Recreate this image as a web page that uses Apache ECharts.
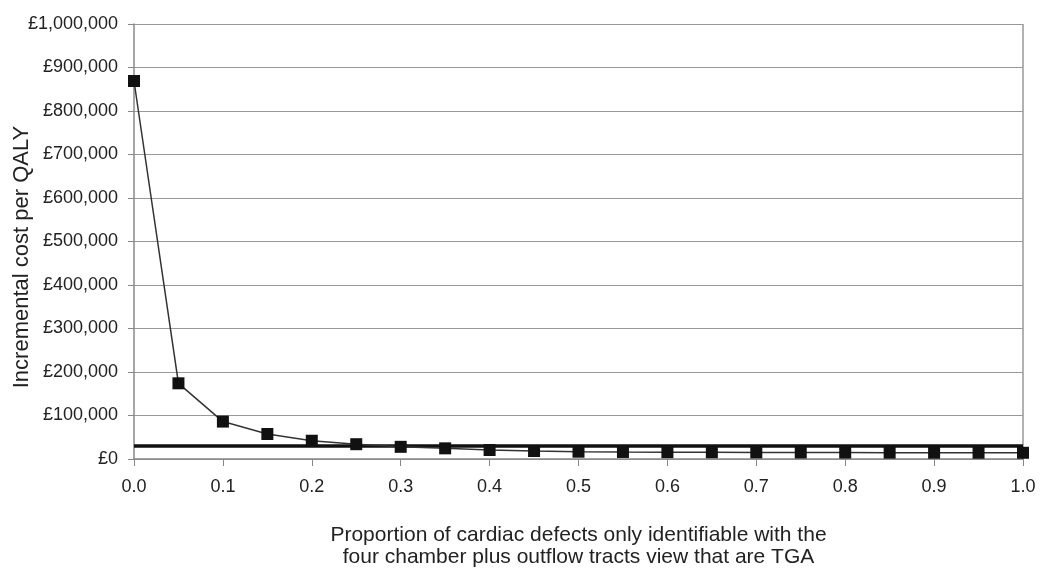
<!DOCTYPE html>
<html lang="en">
<head>
    <meta charset="UTF-8">
    <title>Incremental cost per QALY</title>
    <style>
        html, body { margin: 0; padding: 0; background: #fff; }
        #main { width: 1041px; height: 572px; }
    </style>
</head>
<body>
    <div id="main"></div>
    <script src="https://cdn.jsdelivr.net/npm/echarts@6/dist/echarts.min.js"></script>
    <script>
        // proportion of defects that are TGA
        var proportions = [0.0, 0.05, 0.1, 0.15, 0.2, 0.25, 0.3, 0.35, 0.4, 0.45, 0.5,
                           0.55, 0.6, 0.65, 0.7, 0.75, 0.8, 0.85, 0.9, 0.95, 1.0];
        // incremental cost per QALY (GBP)
        var costPerQaly = [869000, 174000, 86000, 57500, 42000, 34000, 28000, 24500, 20700, 18400, 16800,
                           16200, 15800, 15500, 15200, 15000, 14800, 14600, 14500, 14400, 14300];
        var threshold = 30000;
        var thresholdX = [0, 1];

        var font = 'Liberation Sans, Arial, sans-serif';

        var chart = echarts.init(document.getElementById('main'));
        chart.setOption({
            animation: false,
            grid: { left: 134, right: 18, top: 24, bottom: 113, outerBoundsMode: 'none', containLabel: false },
            xAxis: {
                type: 'value',
                min: 0,
                max: 1,
                interval: 0.1,
                name: 'Proportion of cardiac defects only identifiable with the\nfour chamber plus outflow tracts view that are TGA',
                nameLocation: 'middle',
                nameGap: 65,
                nameTextStyle: { fontFamily: font, fontSize: 21, color: '#222', lineHeight: 22 },
                axisLine: { show: true, lineStyle: { color: '#888', width: 1.5 } },
                axisTick: { show: true, length: 7, lineStyle: { color: '#888' } },
                axisLabel: {
                    margin: 19,
                    fontFamily: font, fontSize: 18, color: '#222',
                    formatter: function (v) { return v.toFixed(1); }
                },
                splitLine: { show: false }
            },
            yAxis: {
                type: 'value',
                min: 0,
                max: 1000000,
                interval: 100000,
                axisLine: { show: true, lineStyle: { color: '#888', width: 1.5 } },
                axisTick: { show: true, length: 6, lineStyle: { color: '#888' } },
                axisLabel: {
                    margin: 16,
                    fontFamily: font, fontSize: 18, color: '#222',
                    formatter: function (v) { return '£' + v.toLocaleString('en-GB'); }
                },
                splitLine: { show: true, lineStyle: { color: '#999', width: 1.2 } }
            },
            series: [
                {
                    type: 'line',
                    data: proportions.map(function (p, i) { return [p, costPerQaly[i]]; }),
                    symbol: 'rect',
                    symbolSize: 12,
                    itemStyle: { color: '#111' },
                    lineStyle: { color: '#333', width: 1.5 },
                    z: 3
                },
                {
                    type: 'line',
                    data: thresholdX.map(function (x) { return [x, threshold]; }),
                    symbol: 'none',
                    lineStyle: { color: '#111', width: 3.5 },
                    z: 2
                }
            ],
            graphic: [
                // y axis title (placed by hand, sits a bit below the plot centre)
                {
                    type: 'text',
                    x: 22,
                    y: 257,
                    rotation: Math.PI / 2,
                    style: {
                        text: 'Incremental cost per QALY',
                        font: '22px ' + font,
                        fill: '#222',
                        align: 'center',
                        verticalAlign: 'middle'
                    }
                },
                // right edge of the plot area
                {
                    type: 'line',
                    shape: { x1: 1023, y1: 24, x2: 1023, y2: 459 },
                    style: { stroke: '#999', lineWidth: 1.5 }
                }
            ]
        });
    </script>
</body>
</html>
